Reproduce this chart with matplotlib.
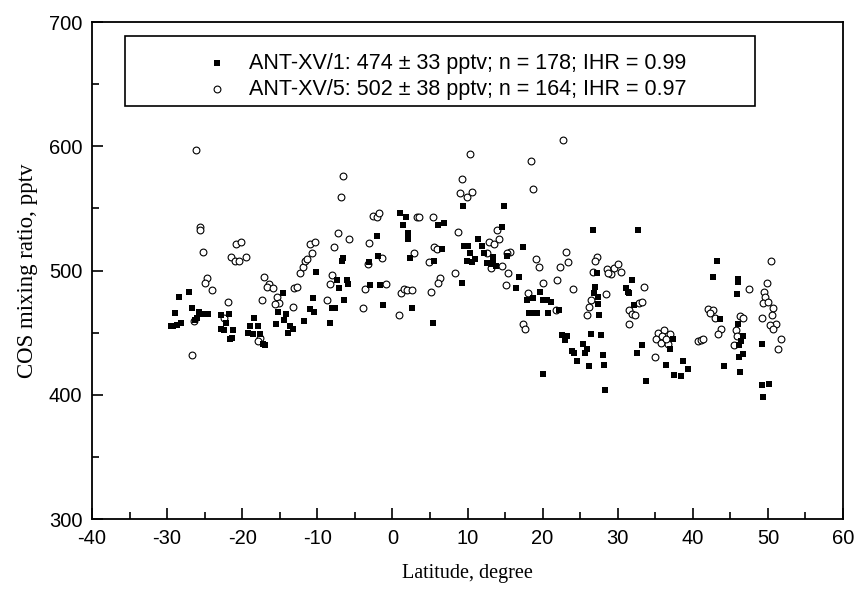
import matplotlib
matplotlib.use("Agg")
import matplotlib.pyplot as plt
from matplotlib.patches import Rectangle
from matplotlib.ticker import MultipleLocator

# ANT-XV/1 (filled squares)
lat_xv1 = [-28.46, -27.04, -28.95, -29.17, -28.73, -28.2, -29.53, -26.64, -25.71, -25.18,
           -24.6, -26.07, -26.29, -22.78, -21.72, -22.16, -22.87, -21.18, -22.43, -21.63,
           -21.41, -18.39, -18.96, -17.86, -19.19, -18.52, -17.63, -17.28, -16.97, -14.62,
           -15.19, -14.17, -15.5, -14.44, -13.64, -13.19, -13.86, -11.77, -10.53, -10.98,
           -10.44, -10.18,
           -6.75, -6.53, -7.42, -7.06, -6.09, -5.87, -6.4, -7.64, -8.08, -8.3,
           -2.09, -1.87, -3.07, -2.98, -1.65, -1.3, 1.01, 1.81, 1.46, 2.03,
           2.12, 2.35, 2.57, 6.03, 6.92, 6.56, 5.54, 5.45, 9.36, 9.22,
           9.54, 10.11, 10.33, 9.89, 10.56, 11.0, 11.44,
           14.9, 14.59, 11.88, 12.19, 12.64, 13.08, 13.44, 13.35, 13.79, 15.21,
           17.43, 16.85, 16.41, 19.61, 18.76, 17.96, 20.01, 20.54, 21.07, 18.23,
           18.76, 19.21, 20.76, 22.23, 20.09, 22.54, 23.2, 22.98, 23.87, 24.22,
           24.62, 25.64, 25.95, 25.33, 26.18, 26.66, 26.97, 27.2, 26.84, 27.42,
           27.42, 27.55, 26.4, 27.77, 28.0, 28.22, 28.31, 32.66, 31.95, 31.06,
           31.41, 31.55, 32.21, 32.52,
           33.19, 33.77, 37.32, 36.97, 36.39, 37.5, 38.39, 38.65, 39.32, 43.18,
           42.74, 43.62, 44.16, 46.07, 46.07, 45.84, 46.07, 46.64, 46.38, 46.2,
           46.73, 46.2, 46.29, 49.17, 49.26, 50.15, 49.3]
cos_xv1 = [479, 483, 466, 455, 456, 458, 455, 470, 467, 465,
           465, 462, 460, 464, 465, 458, 453, 452, 452, 445,
           446, 462, 455, 455, 450, 449, 449, 441, 440, 482,
           467, 465, 457, 460, 455, 453, 450, 459, 478, 469,
           467, 499,
           508, 510, 492, 486, 492, 489, 476, 470, 470, 458,
           528, 512, 507, 488, 488, 472, 546, 543, 537, 530,
           525, 510, 470, 537, 538, 517, 508, 458, 552, 490,
           520, 520, 514, 508, 507, 509, 525,
           552, 535, 520, 514, 506, 505, 511, 506, 504, 512,
           519, 495, 486, 483, 478, 476, 476, 476, 475, 466,
           466, 466, 466, 468, 417, 448, 447, 444, 435, 434,
           427, 434, 437, 441, 423, 533, 487, 498, 482, 479,
           473, 464, 449, 448, 432, 424, 404, 533, 492, 486,
           483, 482, 472, 434,
           440, 411, 445, 437, 424, 416, 415, 427, 421, 508,
           495, 461, 423, 493, 491, 481, 457, 447, 443, 440,
           433, 430, 418, 441, 408, 409, 398]

# ANT-XV/5 (open circles)
lat_xv5 = [-26.15, -25.62, -25.62, -25.18, -24.65, -24.96, -24.07, -26.38, -26.73, -20.83,
           -20.16, -21.5, -20.96, -20.38, -19.5, -21.9, -22.43, -17.06, -16.39, -16.66,
           -15.95, -17.41, -15.41, -15.06, -15.63, -17.63, -17.86, -13.28, -13.1, -12.75,
           -12.31, -11.95, -11.64, -11.33, -10.66, -10.98, -10.31,
           -6.53, -6.84, -7.29, -5.73, -7.73, -8.08, -8.3, -8.66, -2.54, -2.09,
           -1.78, -3.09, -1.43, -3.29, -3.65, -0.85, -3.87, 3.32, 3.59, 2.92,
           1.1, 1.55, 1.99, 2.57, 0.88, 5.36, 5.59, 5.9, 4.92, 6.34,
           6.12, 5.14, 8.38, 8.69, 10.33, 9.31, 9.0, 9.98, 10.65,
           22.76, 18.45, 18.76, 13.88, 12.9, 13.57, 14.19, 12.64, 15.66, 15.3,
           13.08, 14.64, 15.43, 15.08, 19.07, 19.56, 18.1, 20.09, 17.43, 17.65,
           21.78, 21.96, 22.31, 23.07, 23.42, 24.09, 27.2, 26.97, 26.66, 26.4,
           26.18, 25.86, 28.4, 28.53, 29.06, 29.55, 30.0, 30.39, 28.75, 31.55,
           31.86, 32.3, 31.55, 32.88,
           33.55, 33.19, 34.97, 35.41, 36.21, 36.97, 35.1, 35.86, 35.72, 36.74,
           36.43, 40.74, 41.05, 41.4, 41.98, 42.65, 42.29, 42.96, 43.76, 43.31,
           47.53, 46.29, 46.64, 45.75, 45.84, 45.49, 50.42, 49.93, 49.48, 49.62,
           49.3, 49.97, 50.64, 50.51, 49.17, 51.04, 50.28, 50.73, 51.7, 51.3]
cos_xv5 = [597, 535, 533, 515, 494, 490, 484, 459, 432, 521,
           523, 511, 508, 508, 511, 475, 462, 495, 489, 487,
           486, 476, 479, 474, 473, 446, 443, 471, 486, 487,
           498, 503, 508, 509, 514, 521, 523,
           576, 559, 530, 525, 519, 496, 489, 476, 544, 543,
           546, 522, 510, 505, 485, 489, 470, 543, 543, 514,
           482, 485, 484, 484, 464, 543, 519, 517, 507, 494,
           490, 483, 498, 531, 594, 574, 562, 559, 563,
           605, 588, 566, 533, 523, 521, 525, 514, 515, 514,
           502, 504, 498, 488, 509, 503, 482, 490, 457, 453,
           468, 492, 503, 515, 507, 485, 511, 508, 499, 476,
           471, 464, 481, 501, 497, 502, 505, 499, 498, 468,
           465, 464, 457, 474,
           487, 475, 430, 450, 452, 449, 445, 447, 442, 441,
           445, 443, 444, 445, 469, 468, 466, 462, 453, 449,
           485, 463, 462, 452, 447, 440, 508, 490, 483, 479,
           474, 475, 470, 464, 462, 457, 456, 453, 445, 437]

label_xv1 = "ANT-XV/1: 474 \u00b1 33 pptv; n = 178; IHR = 0.99"
label_xv5 = "ANT-XV/5: 502 \u00b1 38 pptv; n = 164; IHR = 0.97"

plt.rcParams["font.family"] = ["Liberation Sans", "DejaVu Sans"]
plt.rcParams["axes.unicode_minus"] = False

fig = plt.figure(figsize=(8.56, 5.92), dpi=100)
ax = fig.add_axes([0.1075, 0.1233, 0.8773, 0.8395])

ax.scatter(lat_xv1, cos_xv1, marker="s", s=15, color="black", linewidths=0,
           label=label_xv1, zorder=3)
ax.scatter(lat_xv5, cos_xv5, marker="o", s=24, facecolors="white",
           edgecolors="black", linewidths=0.8, label=label_xv5, zorder=2)

ax.set_xlim(-40, 60)
ax.set_ylim(300, 700)
ax.xaxis.set_major_locator(MultipleLocator(10))
ax.xaxis.set_minor_locator(MultipleLocator(5))
ax.yaxis.set_major_locator(MultipleLocator(100))
ax.yaxis.set_minor_locator(MultipleLocator(50))
ax.tick_params(which="both", direction="in", top=False, right=False,
               labelsize=14.5, width=1.2)
ax.tick_params(which="major", length=8)
ax.tick_params(which="minor", length=5)
ax.tick_params(axis="x", pad=7)
ax.tick_params(axis="y", pad=7)
for sp in ax.spines.values():
    sp.set_linewidth(1.3)

ax.set_xlabel("Latitude, degree", family=["Liberation Serif", "DejaVu Serif"],
              fontsize=14.5, labelpad=12)
ax.set_ylabel("COS mixing ratio, pptv", family=["Liberation Serif", "DejaVu Serif"],
              fontsize=16.5, labelpad=8)

# legend box
ax.add_patch(Rectangle((0.044, 0.831), 0.839, 0.141, transform=ax.transAxes,
                       facecolor="white", edgecolor="black", linewidth=1.2,
                       zorder=4))
ax.legend(loc="center left", bbox_to_anchor=(0.1406, 0.891), frameon=False,
          fontsize=15.5, handlelength=1.0, handletextpad=1.0, labelspacing=0.25,
          borderaxespad=0, markerscale=1.0, scatterpoints=1).set_zorder(5)

fig.savefig("out.png", dpi=100)
